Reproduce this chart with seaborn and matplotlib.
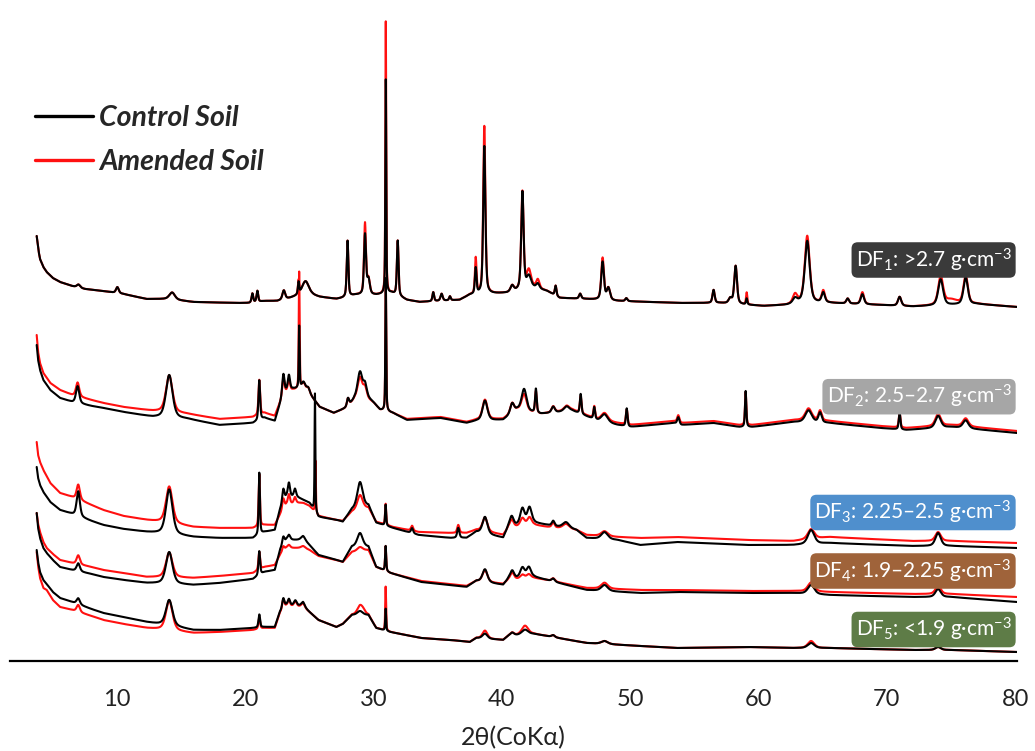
"""
xrd_density_fractions.py

Stacked XRD patterns (CoKa) of five density fractions, control vs amended soil.
Traces are rebuilt from background anchor points and peak lists read off the
original figure. Levels are in figure-pixel units measured down from the top
(the axis line sits at 661), converted to plot height below.
"""

import numpy as np
import pandas as pd
import matplotlib
matplotlib.use("Agg")
import matplotlib.pyplot as plt
import seaborn as sns
from matplotlib.lines import Line2D

# ---------------------------- CONFIG ---------------------------------

OUT_PATH = "out.png"
TOP = 661.0                      # axis line level, plot units
THETA_START, THETA_END, STEP = 3.74, 80.15, 0.01
FONT = ["Lato", "DejaVu Sans"]

CONTROL, AMENDED = "Control Soil", "Amended Soil"
COLORS = {CONTROL: "#000000", AMENDED: "#ff1010"}

# ------------------------------ DATA ----------------------------------
# background anchors: (2theta, level measured down from top)
# peaks: (2theta, fwhm, height control, height amended)

DF1_BG_CONTROL = [(3.74, 236), (3.9, 252), (4.0, 259), (4.26, 267), (4.52, 272),
                  (5.0, 278), (5.56, 282), (6.5, 286), (7.5, 289), (8.93, 291),
                  (10.5, 294), (12.3, 299), (14.0, 299), (15.95, 302), (19.33, 303),
                  (20.3, 303), (21.5, 301), (22.5, 301), (23.5, 298), (24.5, 294),
                  (25.2, 295), (25.8, 297), (27.1, 299), (27.6, 298), (28.6, 295),
                  (30.2, 295), (31.4, 293), (32.6, 300), (33.6, 302), (36.7, 300),
                  (37.5, 295), (40.4, 293), (42.45, 288), (43.5, 291), (44.5, 298),
                  (46.5, 299), (49.0, 301), (53.9, 303), (57.0, 303), (60.4, 306),
                  (62.2, 305), (63.2, 303), (65.5, 303), (69.5, 305), (72.0, 306.5),
                  (77.0, 304), (80.15, 307)]
DF1_BG_AMENDED = DF1_BG_CONTROL
DF1_PEAKS = [(7.0, 0.3, 3, 3), (10.03, 0.25, 6, 6), (14.3, 0.5, 7, 7),
             (20.55, 0.15, 9, 9), (20.94, 0.15, 11, 11), (23.0, 0.25, 9, 9),
             (24.15, 0.12, 12, 14), (24.7, 0.6, 13, 13), (27.97, 0.15, 56, 56),
             (29.33, 0.18, 60, 71), (29.6, 0.25, 15, 15), (30.95, 0.08, 214, 272),
             (31.88, 0.15, 55, 55), (34.65, 0.15, 9, 9), (35.3, 0.2, 7, 7),
             (35.95, 0.15, 4, 4), (37.96, 0.15, 26, 36), (38.63, 0.2, 148, 168),
             (40.8, 0.3, 6, 6), (41.6, 0.22, 98, 98), (42.1, 0.4, 12, 18),
             (42.8, 0.3, 5, 9), (44.19, 0.15, 10, 10), (46.1, 0.2, 5, 5),
             (47.85, 0.25, 38, 42), (48.3, 0.3, 12, 12), (49.7, 0.2, 3, 3),
             (56.5, 0.2, 13, 13), (57.8, 0.3, 5, 5), (58.22, 0.25, 38, 38),
             (59.08, 0.12, 6, 12), (62.85, 0.4, 5, 9), (63.8, 0.45, 62, 67),
             (65.05, 0.3, 10, 12), (66.95, 0.25, 5, 5), (68.1, 0.3, 10, 12),
             (71.0, 0.3, 9, 9), (74.2, 0.45, 26, 28), (75.0, 1.2, 0, 5),
             (76.15, 0.4, 27, 29)]

DF2_BG_CONTROL = [(3.74, 345), (3.85, 360), (4.0, 370), (4.26, 380), (4.8, 390),
                  (5.56, 398), (6.5, 402), (8.0, 406), (8.93, 408), (10.5, 412),
                  (12.8, 417), (15.5, 419), (18.0, 425), (20.6, 423), (21.5, 418),
                  (22.3, 421), (22.8, 400), (23.0, 392), (23.7, 389), (24.5, 388),
                  (25.0, 394), (25.8, 407), (26.9, 413), (27.9, 408), (28.5, 400),
                  (29.5, 398), (30.0, 403), (30.5, 410), (31.5, 413), (32.6, 420),
                  (35.2, 418), (37.25, 423), (38.0, 421), (40.1, 420), (41.2, 410),
                  (43.0, 414), (45.5, 411), (47.5, 421), (49.0, 425), (50.0, 427),
                  (53.4, 423), (54.0, 425), (56.5, 423), (58.5, 427), (59.5, 427),
                  (62.7, 422), (65.5, 423), (69.5, 428), (71.5, 430), (75.0, 427),
                  (80.15, 433)]
DF2_BG_AMENDED = [(3.74, 335), (3.85, 352), (4.0, 363), (4.26, 373), (4.8, 383),
                  (5.56, 390), (6.5, 395), (8.0, 400), (8.93, 403), (10.5, 407),
                  (12.8, 411), (15.5, 414), (18.0, 419), (20.6, 417), (21.5, 413),
                  (22.3, 416), (22.8, 400), (23.0, 393), (23.7, 390), (24.5, 389),
                  (25.0, 394), (25.8, 407), (26.9, 413), (27.9, 408), (28.5, 400),
                  (29.5, 399), (30.0, 403), (30.5, 410), (31.5, 413), (32.6, 419),
                  (35.2, 417), (37.25, 422), (38.0, 420), (40.1, 419), (41.2, 410),
                  (43.0, 414), (45.5, 410), (47.5, 420), (49.0, 423), (50.0, 425),
                  (53.4, 421), (54.0, 423), (56.5, 421), (58.5, 425), (59.5, 425),
                  (62.7, 420), (65.5, 421), (69.5, 426), (71.5, 428), (75.0, 425),
                  (80.15, 431)]
DF2_PEAKS = [(6.93, 0.3, 17, 14), (14.07, 0.6, 43, 37), (21.09, 0.15, 40, 35),
             (22.96, 0.2, 19, 16), (23.4, 0.2, 15, 12), (24.2, 0.08, 62, 117),
             (24.55, 0.3, 6, 6), (24.9, 0.3, 5, 5), (28.0, 0.2, 8, 8),
             (28.94, 0.45, 27, 22), (29.33, 0.3, 12, 10), (30.95, 0.08, 133, 133),
             (38.68, 0.45, 20, 20), (40.8, 0.35, 10, 10), (41.73, 0.45, 22, 17),
             (42.65, 0.15, 24, 22), (44.0, 0.3, 6, 6), (45.05, 0.5, 5, 5),
             (46.14, 0.15, 20, 17), (47.2, 0.15, 12, 12), (48.0, 0.6, 8, 8),
             (49.73, 0.15, 18, 15), (53.75, 0.2, 7, 7), (59.0, 0.12, 36, 33),
             (63.9, 0.6, 12, 12), (64.8, 0.3, 10, 10), (71.0, 0.15, 17, 15),
             (74.0, 0.5, 12, 12), (76.15, 0.5, 8, 8)]

DF3_BG_CONTROL = [(3.74, 467), (3.85, 478), (4.0, 485), (4.26, 492), (4.8, 502),
                  (5.56, 510), (6.5, 514), (8.0, 521), (8.93, 525), (10.5, 529),
                  (12.3, 532), (15.95, 537), (18.0, 538), (20.6, 538), (21.5, 532),
                  (22.3, 530), (22.7, 510), (23.2, 497), (24.0, 497), (24.52, 500),
                  (25.0, 503), (25.7, 517), (27.1, 520), (27.6, 522), (28.3, 510),
                  (29.6, 506), (30.2, 523), (31.5, 528), (33.5, 535), (36.0, 538),
                  (37.25, 538), (38.0, 532), (40.1, 538), (40.5, 527), (42.5, 523),
                  (43.5, 525), (45.8, 530), (46.6, 538), (49.0, 540), (50.8, 545),
                  (53.6, 542), (59.1, 545), (62.7, 545), (65.5, 543), (72.0, 546),
                  (75.0, 546), (80.15, 548)]
DF3_BG_AMENDED = [(3.74, 442), (3.85, 455), (4.0, 462), (4.26, 470), (4.8, 483),
                  (5.56, 493), (6.5, 497), (8.0, 505), (8.93, 510), (10.5, 516),
                  (12.3, 520), (15.95, 527), (18.0, 528), (20.6, 528), (21.5, 525),
                  (22.3, 525), (22.7, 515), (23.2, 505), (24.0, 503), (24.52, 503),
                  (25.0, 506), (25.7, 516), (27.1, 520), (27.6, 521), (28.3, 512),
                  (29.6, 508), (30.2, 522), (31.5, 527), (33.5, 532), (36.0, 533),
                  (37.25, 533), (38.0, 530), (40.1, 535), (40.5, 528), (42.5, 525),
                  (43.5, 527), (45.8, 530), (46.6, 535), (49.0, 537), (50.8, 538),
                  (53.6, 537), (59.1, 540), (62.7, 541), (65.5, 537), (72.0, 541),
                  (75.0, 541), (80.15, 543)]
DF3_PEAKS = [(6.98, 0.3, 25, 15), (14.07, 0.6, 45, 37), (21.09, 0.12, 62, 52),
             (22.96, 0.2, 14, 11), (23.4, 0.2, 14, 10), (23.87, 0.2, 8, 6),
             (25.43, 0.07, 118, 0), (25.47, 0.07, 0, 52), (28.94, 0.5, 26, 15),
             (30.94, 0.1, 21, 21), (33.0, 0.2, 5, 5), (36.6, 0.2, 10, 8),
             (38.68, 0.45, 17, 14), (40.76, 0.35, 10, 8), (41.6, 0.4, 16, 8),
             (42.15, 0.4, 16, 8), (44.0, 0.25, 5, 5), (45.0, 0.6, 6, 5),
             (48.0, 0.6, 7, 5), (64.1, 0.6, 14, 10), (74.0, 0.5, 13, 9)]

DF4_BG_CONTROL = [(3.74, 513), (3.85, 528), (4.0, 538), (4.26, 548), (4.52, 553),
                  (5.0, 560), (5.56, 567), (6.5, 570), (8.0, 574), (8.93, 577),
                  (10.5, 580), (12.3, 583), (15.95, 585), (18.0, 583), (20.6, 579),
                  (21.5, 572), (22.3, 570), (22.7, 550), (23.2, 540), (24.5, 540),
                  (25.0, 545), (25.7, 555), (27.1, 560), (27.6, 562), (28.3, 547),
                  (29.6, 547), (30.2, 567), (31.3, 573), (33.7, 582), (37.25, 587),
                  (38.0, 581), (40.1, 585), (40.5, 579), (42.5, 577), (43.5, 580),
                  (46.6, 590), (50.8, 593), (53.6, 592), (59.1, 593), (62.7, 593),
                  (65.5, 595), (72.0, 597), (75.0, 597), (80.15, 602)]
DF4_BG_AMENDED = [(3.74, 513), (3.85, 524), (4.0, 532), (4.26, 542), (4.52, 548),
                  (5.0, 554), (5.56, 560), (6.5, 563), (8.0, 567), (8.93, 570),
                  (10.5, 573), (12.3, 577), (15.95, 578), (18.0, 576), (20.6, 573),
                  (21.5, 567), (22.3, 565), (22.7, 555), (23.2, 548), (24.5, 548),
                  (25.0, 550), (25.7, 556), (27.1, 560), (27.6, 562), (28.3, 552),
                  (29.6, 550), (30.2, 567), (31.3, 573), (33.7, 581), (37.25, 586),
                  (38.0, 581), (40.1, 584), (40.5, 580), (42.5, 578), (43.5, 580),
                  (46.6, 588), (50.8, 590), (53.6, 590), (59.1, 591), (62.7, 591),
                  (65.5, 592), (72.0, 594), (75.0, 594), (80.15, 597)]
DF4_PEAKS = [(6.98, 0.3, 8, 9), (14.07, 0.6, 32, 25), (21.09, 0.15, 24, 18),
             (22.96, 0.2, 8, 5), (23.4, 0.25, 5, 3), (24.52, 0.4, 4, 2),
             (28.94, 0.5, 14, 4), (30.94, 0.1, 25, 25), (38.68, 0.45, 13, 12),
             (40.8, 0.35, 8, 7), (41.6, 0.4, 10, 4), (42.1, 0.4, 10, 4),
             (44.0, 0.3, 3, 3), (48.0, 0.6, 6, 6), (64.1, 0.6, 9, 9),
             (74.0, 0.5, 8, 8)]

DF5_BG_CONTROL = [(3.74, 550), (3.85, 562), (4.0, 572), (4.26, 580), (4.52, 584),
                  (5.0, 592), (5.56, 598), (6.5, 602), (8.0, 609), (8.93, 613),
                  (10.5, 617), (12.3, 622), (15.95, 630), (18.0, 630), (20.6, 628),
                  (21.5, 627), (22.3, 627), (22.7, 612), (23.2, 605), (24.5, 606),
                  (25.0, 612), (25.7, 620), (27.1, 627), (27.6, 624), (28.3, 615),
                  (29.6, 615), (30.2, 628), (31.3, 632), (33.7, 638), (36.0, 640),
                  (37.5, 642), (38.0, 638), (40.1, 640), (40.5, 636), (42.5, 634),
                  (43.5, 636), (46.6, 643), (53.6, 648), (59.1, 647), (62.7, 648),
                  (65.5, 648), (72.0, 650), (75.0, 650), (80.15, 652)]
DF5_BG_AMENDED = [(3.74, 552), (3.85, 566), (4.0, 578), (4.26, 588), (4.52, 590),
                  (5.0, 600), (5.56, 607), (6.5, 610), (8.0, 616), (8.93, 620),
                  (10.5, 624), (12.3, 628), (15.95, 633), (18.0, 632), (20.6, 630),
                  (21.5, 628), (22.3, 628), (22.7, 613), (23.2, 606), (24.5, 607),
                  (25.0, 612), (25.7, 620), (27.1, 627), (27.6, 624), (28.3, 615),
                  (29.6, 615), (30.2, 628), (31.3, 632), (33.7, 638), (36.0, 640),
                  (37.5, 642), (38.0, 638), (40.1, 640), (40.5, 636), (42.5, 634),
                  (43.5, 636), (46.6, 643), (53.6, 648), (59.1, 647), (62.7, 648),
                  (65.5, 648), (72.0, 650), (75.0, 650), (80.15, 652)]
DF5_PEAKS = [(6.98, 0.3, 6, 7), (14.07, 0.6, 26, 30), (21.09, 0.15, 13, 12),
             (22.96, 0.2, 10, 10), (23.4, 0.2, 6, 6), (23.9, 0.25, 5, 5),
             (24.5, 0.3, 4, 4), (28.94, 0.5, 4, 9), (29.2, 0.4, 0, 3),
             (30.94, 0.08, 22, 44), (38.68, 0.45, 5, 8), (40.8, 0.35, 3, 3),
             (41.8, 0.6, 5, 9), (44.0, 0.3, 2, 2), (48.0, 0.6, 3, 3),
             (64.1, 0.6, 5, 7), (74.0, 0.5, 3, 3)]

FRACTIONS = ["DF1", "DF2", "DF3", "DF4", "DF5"]
BACKGROUNDS = {
    "DF1": (DF1_BG_CONTROL, DF1_BG_AMENDED),
    "DF2": (DF2_BG_CONTROL, DF2_BG_AMENDED),
    "DF3": (DF3_BG_CONTROL, DF3_BG_AMENDED),
    "DF4": (DF4_BG_CONTROL, DF4_BG_AMENDED),
    "DF5": (DF5_BG_CONTROL, DF5_BG_AMENDED),
}
PEAKS = {"DF1": DF1_PEAKS, "DF2": DF2_PEAKS, "DF3": DF3_PEAKS,
         "DF4": DF4_PEAKS, "DF5": DF5_PEAKS}

LABEL_TEXTS = ["DF$_1$: >2.7 g·cm$^{-3}$", "DF$_2$: 2.5–2.7 g·cm$^{-3}$",
               "DF$_3$: 2.25–2.5 g·cm$^{-3}$", "DF$_4$: 1.9–2.25 g·cm$^{-3}$",
               "DF$_5$: <1.9 g·cm$^{-3}$"]
LABEL_LEVELS = [260, 396.7, 512.5, 571, 629.5]
LABEL_COLORS = ["#3a3a3a", "#a6a6a6", "#4f8fcd", "#9f633a", "#5e7c47"]

X_TICKS = [10, 20, 30, 40, 50, 60, 70, 80]


# ---------------------- SMALL UTILITY HELPERS ------------------------


def peak_shape(theta, center, fwhm, eta=0.5):
    """Pseudo-Voigt profile with unit height."""
    hw = fwhm / 2.0
    lor = hw ** 2 / ((theta - center) ** 2 + hw ** 2)
    gau = np.exp(-np.log(2) * ((theta - center) / hw) ** 2)
    return eta * lor + (1 - eta) * gau


def build_trace(theta, background, peaks, which):
    bx = [p[0] for p in background]
    by = [TOP - p[1] for p in background]
    y = np.interp(theta, bx, by)
    for center, fwhm, h_ctrl, h_amd in peaks:
        h = h_ctrl if which == CONTROL else h_amd
        if h:
            y = y + h * peak_shape(theta, center, fwhm)
    return y


def build_frame():
    theta = np.arange(THETA_START, THETA_END, STEP)
    rows = []
    for frac in FRACTIONS:
        bg_ctrl, bg_amd = BACKGROUNDS[frac]
        for soil, bg in [(AMENDED, bg_amd), (CONTROL, bg_ctrl)]:
            rows.append(pd.DataFrame({
                "theta": theta,
                "intensity": build_trace(theta, bg, PEAKS[frac], soil),
                "fraction": frac,
                "soil": soil,
            }))
    return pd.concat(rows, ignore_index=True)


# ------------------------------ MAIN ----------------------------------


def main():
    sns.set_theme(style="white")
    plt.rcParams["font.family"] = FONT
    plt.rcParams["mathtext.fontset"] = "custom"
    plt.rcParams["mathtext.rm"] = "Lato"
    plt.rcParams["mathtext.it"] = "Lato:italic"
    plt.rcParams["mathtext.bf"] = "Lato:bold"

    df = build_frame()

    fig = plt.figure(figsize=(10.35, 7.51), dpi=100)
    ax = fig.add_axes([10 / 1035, 90 / 751, 1007 / 1035, 661 / 751])

    sns.lineplot(data=df, x="theta", y="intensity", hue="soil",
                 hue_order=[AMENDED, CONTROL], units="fraction",
                 estimator=None, sort=False, palette=COLORS,
                 linewidth=1.5, legend=False, ax=ax)

    ax.set_xlim(1.66, 80.15)
    ax.set_ylim(0, TOP)
    ax.set_xticks(X_TICKS)
    ax.set_yticks([])
    ax.set_xlabel("2θ(CoKα)", fontsize=18, labelpad=12, color="#222222")
    ax.set_ylabel("")
    ax.tick_params(axis="x", length=0, pad=20, labelsize=17, colors="#222222")
    for side in ["top", "left", "right"]:
        ax.spines[side].set_visible(False)
    ax.spines["bottom"].set_linewidth(1.6)
    ax.spines["bottom"].set_color("black")

    # density-fraction tags, right aligned at the end of each trace
    for text, level, color in zip(LABEL_TEXTS, LABEL_LEVELS, LABEL_COLORS):
        ax.text(79.72, TOP - level, text, ha="right", va="center",
                fontsize=15, color="white",
                bbox=dict(boxstyle="round,pad=0.2,rounding_size=0.3",
                          fc=color, ec="none"))

    handles = [Line2D([], [], color=COLORS[CONTROL], lw=2.4),
               Line2D([], [], color=COLORS[AMENDED], lw=2.4)]
    ax.legend(handles, [CONTROL, AMENDED], loc="upper left",
              bbox_to_anchor=(35 / 1035, 1 - 105 / 751),
              bbox_transform=fig.transFigure, frameon=False,
              prop=dict(family=FONT, weight="bold", style="italic", size=20.5),
              handlelength=2.05, handletextpad=0.2, labelspacing=0.62,
              borderpad=0, borderaxespad=0)

    fig.savefig(OUT_PATH, dpi=100)
    plt.close(fig)


if __name__ == "__main__":
    main()
